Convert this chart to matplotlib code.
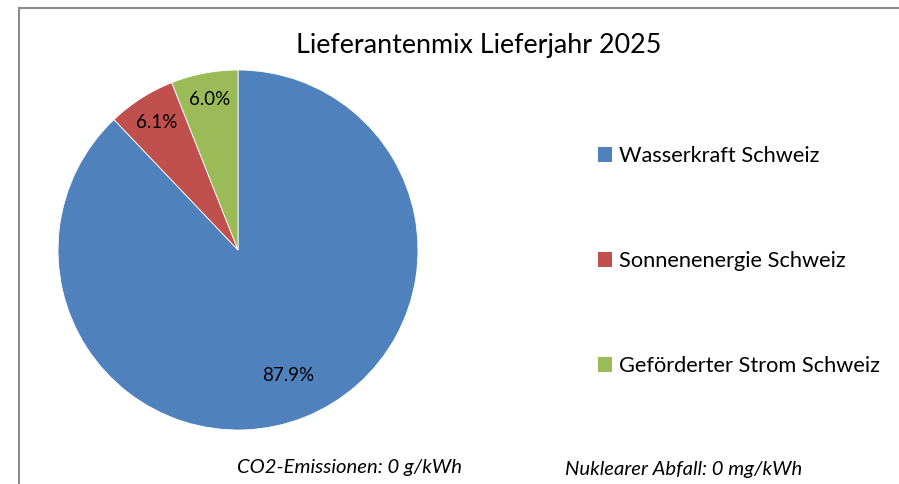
import matplotlib
matplotlib.use('Agg')
import matplotlib.pyplot as plt
from matplotlib.lines import Line2D
from matplotlib.patches import Patch

# Daten
quellen = ['Wasserkraft Schweiz', 'Sonnenenergie Schweiz', 'Geförderter Strom Schweiz']
anteile = [87.9, 6.1, 6.0]
farben = ['#4F81BD', '#C0504D', '#9BBB59']

titel = 'Lieferantenmix Lieferjahr 2025'
fussnote_links = 'CO2-Emissionen: 0 g/kWh'
fussnote_rechts = 'Nuklearer Abfall: 0 mg/kWh'

plt.rcParams['font.family'] = ['Lato', 'DejaVu Sans']

W, H = 899, 484
fig = plt.figure(figsize=(W / 100, H / 100), dpi=100)

# Kreisdiagramm: Mittelpunkt ca. (238, 250), Radius ca. 180 px
cx, cy, r = 238, 250, 180
ax = fig.add_axes([(cx - r) / W, (H - cy - r) / H, 2 * r / W, 2 * r / H])
wedges, texts, autotexts = ax.pie(
    anteile, colors=farben, startangle=90, counterclock=False,
    autopct='%.1f%%', pctdistance=0.75,
    wedgeprops=dict(edgecolor='white', linewidth=0.6),
    textprops=dict(fontsize=13.5, color='black'))
ax.set_xlim(-1, 1)
ax.set_ylim(-1, 1)
ax.set_aspect('equal')
ax.axis('off')

# Beschriftungen der kleinen Segmente etwas weiter aussen
abstand = [0.75, 0.84, 0.85]
for t, d in zip(autotexts, abstand):
    x, y = t.get_position()
    f = d / 0.75
    t.set_position((x * f, y * f))

# Titel
fig.text(479 / W, 1 - 45 / H, titel, ha='center', va='center', fontsize=19.4)

# Legende
handles = [Patch(facecolor=c, edgecolor='none') for c in farben]
fig.legend(handles, quellen, loc='center left',
           bbox_to_anchor=(598 / W, 1 - 261 / H), frameon=False,
           fontsize=15.7, labelspacing=3.9, handlelength=0.65,
           handleheight=0.65, handletextpad=0.3, borderpad=0, borderaxespad=0)

# Fussnoten
fig.text(237 / W, 1 - 467 / H, fussnote_links, ha='left', va='center',
         fontsize=14.6, style='italic')
fig.text(565 / W, 1 - 470 / H, fussnote_rechts, ha='left', va='center',
         fontsize=14.6, style='italic')

# Rahmen (nur links und oben sichtbar)
rahmen = '#8c8c8c'
fig.add_artist(Line2D([18.5 / W, 18.5 / W], [0, 1 - 7.5 / H], color=rahmen, lw=1.5,
                      transform=fig.transFigure))
fig.add_artist(Line2D([18.5 / W, 1], [1 - 7.5 / H, 1 - 7.5 / H], color=rahmen, lw=1.5,
                      transform=fig.transFigure))

fig.savefig('out.png', dpi=100)
